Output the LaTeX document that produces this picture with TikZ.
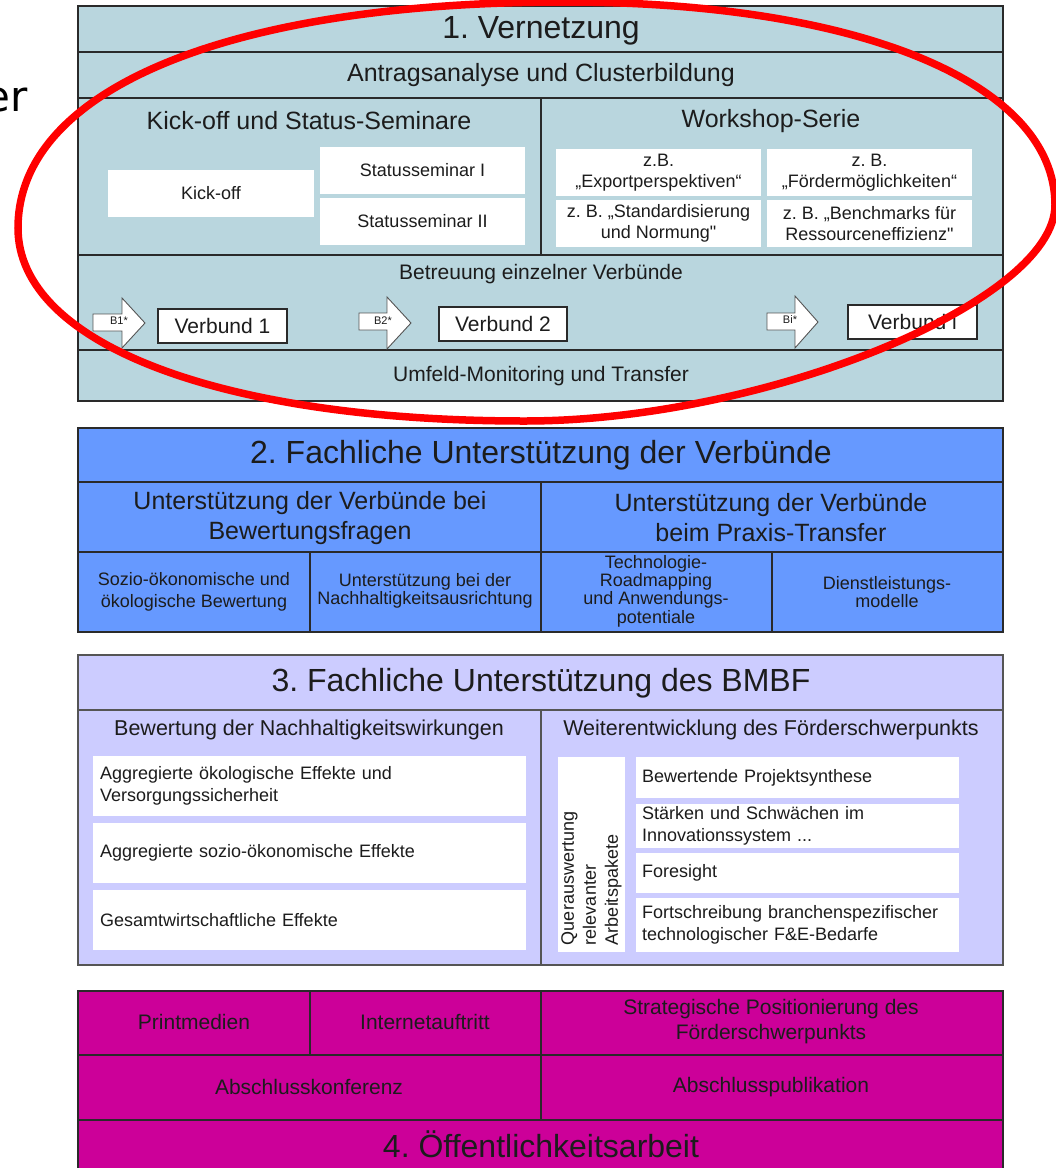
\documentclass[tikz,border=0pt]{standalone}
\usepackage{fontspec}
\setmainfont{Liberation Sans}[Ligatures=TeXOff]
\newfontfamily\erfont{DejaVu Sans}
\frenchspacing
\definecolor{sone}{HTML}{B9D6DE}
\definecolor{stwo}{HTML}{6699FF}
\definecolor{sthree}{HTML}{CCCCFF}
\definecolor{sfour}{HTML}{CC0099}
\definecolor{txt}{HTML}{1C1C1C}
\definecolor{edge}{HTML}{2A2A2A}
\definecolor{edgegrey}{HTML}{555555}
\definecolor{ringred}{HTML}{FF0000}
\begin{document}
\begin{tikzpicture}[x=1pt,y=-1pt,
  frame/.style={draw=edge, line width=1.6},
  ttl/.style={font=\fontsize{32}{38}\selectfont, text=txt, inner sep=0},
  hd/.style={font=\fontsize{25}{30}\selectfont, text=txt, inner sep=0, align=center},
  md/.style={font=\fontsize{21}{25}\selectfont, text=txt, inner sep=0, align=center},
  sm/.style={font=\fontsize{18}{21.5}\selectfont, text=txt, inner sep=0, align=center},
  wbox/.style={sm, fill=white},
  vbox/.style={md, fill=white, draw=edge, line width=1.1},
  lbox/.style={font=\fontsize{18}{22}\selectfont, text=txt, fill=white, inner xsep=7, inner ysep=0, align=left},
  rbox/.style={font=\fontsize{18}{22}\selectfont, text=txt, fill=white, inner xsep=6, inner ysep=0, align=left},
  barrow/.style={fill=white, draw=edgegrey, line width=0.9},
  blab/.style={font=\fontsize{11}{13}\selectfont, text=txt, inner sep=0},
  cell/.style={font=\fontsize{18}{#1}\selectfont, text=txt, inner sep=0, align=center},
  fourtxt/.style={font=\fontsize{21}{25}\selectfont, text=txt, inner sep=0, align=center}
]
\useasboundingbox (0,0) rectangle (1056,1168);
\clip (0,0) rectangle (1056,1168);
\fill[white] (0,0) rectangle (1056,1168);

% stray slide text
\node[font=\erfont\fontsize{42}{48}\selectfont, text=black, anchor=base east, inner sep=0] (er) at (28,111) {er};

% ===== Section 1 =====
\path[fill=sone, draw=edge, line width=1.6] (78,6) rectangle (1003,401);
\draw[frame] (78,52) -- (1003,52);
\draw[frame] (78,98) -- (1003,98);
\draw[frame] (541,98) -- (541,255);
\draw[frame] (78,255) -- (1003,255);
\draw[frame] (78,350) -- (1003,350);

\node[ttl] (t1) at (541,31) {1. Vernetzung};
\node[hd] (antrag) at (541,75) {Antragsanalyse und Clusterbildung};
\node[hd] (kickhd) at (309,121) {Kick-off und Status-Seminare};
\node[hd] (workhd) at (771,121) {Workshop-Serie};

\node[wbox, minimum width=206, minimum height=47] (kick) at (211,193.5) {Kick-off};
\node[wbox, minimum width=205, minimum height=47] (ssa) at (422.5,170.5) {Statusseminar I};
\node[wbox, minimum width=205, minimum height=47] (ssb) at (422.5,221.5) {Statusseminar II};
\node[wbox, minimum width=205, minimum height=47] (wsa) at (658.5,172.5) {z.B.\\„Exportperspektiven“};
\node[wbox, minimum width=205, minimum height=47] (wsb) at (869.5,172.5) {z. B.\\„Fördermöglichkeiten“};
\node[wbox, minimum width=205, minimum height=47] (wsc) at (658.5,223.5) {z. B. „Standardisierung\\und Normung"};
\node[wbox, minimum width=205, minimum height=47] (wsd) at (869.5,223.5) {z. B. „Benchmarks für\\Ressourceneffizienz"};

\node[md] (betr) at (541,274) {Betreuung einzelner Verbünde};

\draw[barrow] (93,314) -- (122,314) -- (122,298) -- (145,323) -- (122,348) -- (122,331) -- (93,331) -- cycle;
\draw[barrow] (359,313) -- (387,313) -- (387,297) -- (411,323) -- (387,349) -- (387,330) -- (359,330) -- cycle;
\draw[barrow] (767,313) -- (795,313) -- (795,296) -- (818,322) -- (795,348) -- (795,330) -- (767,330) -- cycle;
\node[blab] (bone) at (119,321) {B1*};
\node[blab] (btwo) at (383,321) {B2*};
\node[blab] (bi) at (790,320) {Bi*};

\node[vbox, minimum width=129, minimum height=34] (vbone) at (222.5,326) {Verbund 1};
\node[vbox, minimum width=128, minimum height=34] (vbtwo) at (503,324) {Verbund 2};
\node[vbox, minimum width=129, minimum height=34] (vbi) at (912.5,322) {Verbund i};

\node[md] (umf) at (541,376) {Umfeld-Monitoring und Transfer};

% ===== Section 2 =====
\path[fill=stwo, draw=edge, line width=1.6] (78,428) rectangle (1003,632);
\draw[frame] (78,482) -- (1003,482);
\draw[frame] (78,552) -- (1003,552);
\draw[frame] (541,482) -- (541,632);
\draw[frame] (310,552) -- (310,632);
\draw[frame] (772,552) -- (772,632);

\node[ttl] (t2) at (541,455) {2. Fachliche Unterstützung der Verbünde};
\node[hd] (bewfr) at (310,518) {Unterstützung der Verbünde bei\\Bewertungsfragen};
\node[hd] (praxis) at (771,518) {Unterstützung der Verbünde\\beim Praxis-Transfer};
\node[cell=22] (sozio) at (194,592) {Sozio-ökonomische und\\ökologische Bewertung};
\node[cell=18.5] (nachh) at (425,591) {Unterstützung bei der\\Nachhaltigkeitsausrichtung};
\node[cell=18.3] (techno) at (656,591) {Technologie-\\Roadmapping\\und Anwendungs-\\potentiale};
\node[cell=18.3] (dienst) at (887,592) {Dienstleistungs-\\modelle};

% ===== Section 3 =====
\path[fill=sthree, draw=edgegrey, line width=1.6] (78,655) rectangle (1003,965);
\draw[draw=edgegrey, line width=1.6] (78,710) -- (1003,710);
\draw[draw=edgegrey, line width=1.6] (541,710) -- (541,965);

\node[ttl] (t3) at (541,683) {3. Fachliche Unterstützung des BMBF};
\node[font=\fontsize{21.5}{25}\selectfont, text=txt, inner sep=0] (bewhd) at (309,730) {Bewertung der Nachhaltigkeitswirkungen};
\node[font=\fontsize{21.5}{25}\selectfont, text=txt, inner sep=0] (weithd) at (771,730) {Weiterentwicklung des Förderschwerpunkts};

\node[lbox, text width=419, minimum height=60] (aga) at (309.5,786) {Aggregierte ökologische Effekte und\\Versorgungssicherheit};
\node[lbox, text width=419, minimum height=60] (agb) at (309.5,853) {Aggregierte sozio-ökonomische Effekte};
\node[lbox, text width=419, minimum height=60] (agc) at (309.5,920) {Gesamtwirtschaftliche Effekte};

\node[fill=white, rotate=90, minimum width=195, minimum height=67, text width=181, inner xsep=7, inner ysep=0, align=left, font=\fontsize{18}{22}\selectfont, text=txt] (quer) at (591.5,854.5) {Querauswertung\\relevanter\\Arbeitspakete};

\node[rbox, text width=311, minimum height=41] (rba) at (797.5,777.5) {Bewertende Projektsynthese};
\node[rbox, text width=311, minimum height=44] (rbb) at (797.5,826) {Stärken und Schwächen im\\Innovationssystem ...};
\node[rbox, text width=311, minimum height=40] (rbc) at (797.5,873) {Foresight};
\node[rbox, text width=311, minimum height=54] (rbd) at (797.5,925) {Fortschreibung branchenspezifischer\\technologischer F\&E-Bedarfe};

% ===== Section 4 =====
\path[fill=sfour, draw=edge, line width=1.6] (78,991) rectangle (1003,1185);
\draw[frame] (78,1055) -- (1003,1055);
\draw[frame] (78,1120) -- (1003,1120);
\draw[frame] (310,991) -- (310,1055);
\draw[frame] (541,991) -- (541,1120);

\node[fourtxt] (print) at (194,1022) {Printmedien};
\node[fourtxt] (inet) at (425,1022) {Internetauftritt};
\node[fourtxt] (strat) at (771,1022) {Strategische Positionierung des\\Förderschwerpunkts};
\node[fourtxt] (konf) at (309,1087) {Abschlusskonferenz};
\node[fourtxt] (publ) at (771,1087) {Abschlusspublikation};
\node[ttl] (t4) at (541,1144) {4. Öffentlichkeitsarbeit};

% ===== red ring =====
\draw[ringred, line width=7.5]
  (18,228) .. controls (18,88) and (232,2) .. (565,2)
  .. controls (859,2) and (1055,83) .. (1055,205)
  .. controls (1055,302) and (764,421) .. (525,421)
  .. controls (221,421) and (18,344) .. (18,228) -- cycle;
\end{tikzpicture}
\end{document}
